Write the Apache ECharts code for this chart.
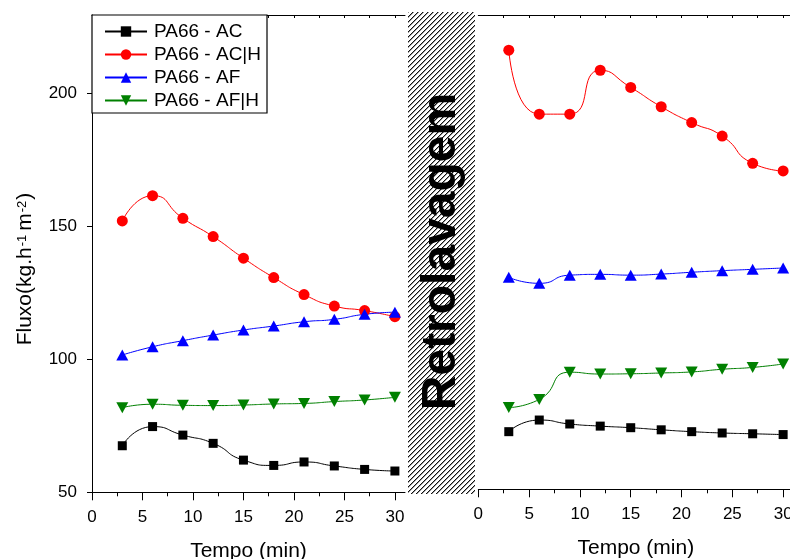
<!DOCTYPE html>
<html>
<head>
<meta charset="utf-8">
<script src="https://cdn.jsdelivr.net/npm/echarts@6/dist/echarts.min.js"></script>
<style>
  html, body { margin: 0; padding: 0; background: #fff; }
  #chart { width: 790px; height: 559px; }
</style>
</head>
<body>
<div id="chart"></div>
<script>
// Filtration time (min)
const tempo = [3, 6, 9, 12, 15, 18, 21, 24, 27, 30];

// Flux before backwashing
const antesAC  = [67.5, 74.7, 71.5, 68.4, 62.1, 60.1, 61.4, 59.9, 58.6, 58.0];
const antesACH = [152.0, 161.5, 153.0, 146.1, 138.0, 130.7, 124.3, 120.0, 118.3, 116.0];
const antesAF  = [101.6, 104.7, 107.0, 109.1, 111.0, 112.5, 114.1, 115.0, 116.9, 117.7];
const antesAFH = [81.8, 83.1, 82.7, 82.6, 82.8, 83.2, 83.4, 84.1, 84.7, 85.7];

// Flux after backwashing
const depoisAC  = [71.8, 76.2, 74.7, 73.9, 73.3, 72.5, 71.8, 71.3, 71.0, 70.7];
const depoisACH = [216.1, 191.9, 191.9, 208.5, 202.0, 194.7, 188.7, 183.6, 173.3, 170.4];
const depoisAF  = [130.2, 127.9, 131.0, 131.3, 131.0, 131.4, 132.1, 132.7, 133.2, 133.7];
const depoisAFH = [80.9, 84.0, 94.3, 93.6, 93.7, 94.0, 94.4, 95.4, 96.1, 97.4];

const seriesNames = ['PA66 - AC', 'PA66 - AC|H', 'PA66 - AF', 'PA66 - AF|H'];

// Axis ticks
const xMajorTicks = [0, 5, 10, 15, 20, 25, 30];
const xMinorTicks = [2.5, 7.5, 12.5, 17.5, 22.5, 27.5];
const xTopTicks = [2.5, 5, 7.5, 10, 12.5, 15, 17.5, 20, 22.5, 25, 27.5, 30];
const yTicks = [50, 100, 150, 200];

const FONT = '"Liberation Sans", Arial, Helvetica, sans-serif';

// Pixel hatch tile (////) for the backwash band
function hatchTile() {
  const n = 5;
  const c = document.createElement('canvas');
  c.width = n; c.height = n;
  const ctx = c.getContext('2d');
  ctx.fillStyle = '#ffffff';
  ctx.fillRect(0, 0, n, n);
  for (let i = 0; i < n; i++) {
    const row = n - 1 - i;
    ctx.fillStyle = '#111111';
    ctx.fillRect(i, row, 1, 1);
    ctx.fillStyle = '#9a9a9a';
    ctx.fillRect((i + 1) % n, row, 1, 1);
  }
  return c;
}

const styles = [
  { color: '#000000', symbol: 'rect', size: 9, rotate: 0 },
  { color: '#ff0000', symbol: 'circle', size: 11, rotate: 0 },
  { color: '#0000ff', symbol: 'triangle', size: [12, 11], rotate: 0 },
  { color: '#008000', symbol: 'triangle', size: [12, 11], rotate: 180 }
];

function pairs(values) {
  return tempo.map((t, i) => [t, values[i]]);
}

function makeSeries(values, idx, xAxisIndex, yAxisIndex) {
  const s = styles[idx];
  return {
    name: seriesNames[idx],
    type: 'line',
    xAxisIndex: xAxisIndex,
    yAxisIndex: yAxisIndex,
    data: pairs(values),
    smooth: 0.6,
    symbol: s.symbol,
    symbolSize: s.size,
    symbolRotate: s.rotate,
    showAllSymbol: true,
    itemStyle: { color: s.color },
    lineStyle: { color: s.color, width: 1 },
    emphasis: { disabled: true }
  };
}

function bottomAxis(gridIndex) {
  return {
    gridIndex: gridIndex,
    type: 'value',
    position: 'bottom',
    min: 0, max: 31, interval: 5,
    axisLine: { show: true, onZero: false, lineStyle: { color: '#000', width: 1 } },
    axisTick: { show: true, customValues: xMajorTicks, length: 8, lineStyle: { color: '#000', width: 1 } },
    axisLabel: { show: true, customValues: xMajorTicks, fontSize: 17, color: '#000', fontFamily: FONT, margin: 17 },
    splitLine: { show: false },
    name: 'Tempo (min)',
    nameLocation: 'middle',
    nameGap: 48,
    nameTextStyle: { fontSize: 21, color: '#000', fontFamily: FONT }
  };
}

function minorAxis(gridIndex) {
  return {
    gridIndex: gridIndex,
    type: 'value',
    position: 'bottom',
    min: 0, max: 31, interval: 5,
    axisLine: { show: false, onZero: false },
    axisTick: { show: true, customValues: xMinorTicks, length: 4, lineStyle: { color: '#000', width: 1 } },
    axisLabel: { show: false },
    splitLine: { show: false }
  };
}

function topAxis(gridIndex) {
  return {
    gridIndex: gridIndex,
    type: 'value',
    position: 'top',
    min: 0, max: 31, interval: 5,
    axisLine: { show: true, onZero: false, lineStyle: { color: '#000', width: 1 } },
    axisTick: { show: true, inside: true, customValues: xTopTicks, length: 3, lineStyle: { color: '#000', width: 1 } },
    axisLabel: { show: false },
    splitLine: { show: false }
  };
}

const chart = echarts.init(document.getElementById('chart'), null, { renderer: 'canvas' });

const option = {
  animation: false,
  backgroundColor: '#ffffff',
  textStyle: { fontFamily: FONT },
  grid: [
    { left: 92, top: 15, width: 313, height: 477.3, containLabel: false, outerBoundsMode: 'none' },
    { left: 478.3, top: 15, width: 315, height: 474.3, containLabel: false, outerBoundsMode: 'none' }
  ],
  legend: {
    data: seriesNames,
    orient: 'vertical',
    left: 92,
    top: 15,
    padding: [7, 6, 3, 12],
    itemWidth: 42,
    itemHeight: 13,
    itemGap: 4,
    backgroundColor: '#ffffff',
    borderColor: '#000000',
    borderWidth: 1.2,
    borderRadius: 0,
    selectedMode: false,
    textStyle: { fontSize: 19, color: '#000', fontFamily: FONT, padding: [0, 0, 0, 2] }
  },
  xAxis: [
    bottomAxis(0), minorAxis(0), topAxis(0),
    bottomAxis(1), minorAxis(1), topAxis(1)
  ],
  yAxis: [
    {
      gridIndex: 0,
      type: 'value',
      min: 50, max: 229.4, interval: 50,
      axisLine: { show: true, onZero: false, lineStyle: { color: '#000', width: 1 } },
      axisTick: { show: true, customValues: yTicks, length: 5, lineStyle: { color: '#000', width: 1 } },
      axisLabel: { show: true, customValues: yTicks, fontSize: 17, color: '#000', fontFamily: FONT, margin: 15 },
      splitLine: { show: false }
    },
    {
      gridIndex: 1,
      type: 'value',
      min: 50, max: 229.4, interval: 50,
      show: false,
      splitLine: { show: false }
    }
  ],
  series: [
    makeSeries(antesAC, 0, 0, 0),
    makeSeries(antesACH, 1, 0, 0),
    makeSeries(antesAF, 2, 0, 0),
    makeSeries(antesAFH, 3, 0, 0),
    makeSeries(depoisAC, 0, 3, 1),
    makeSeries(depoisACH, 1, 3, 1),
    makeSeries(depoisAF, 2, 3, 1),
    makeSeries(depoisAFH, 3, 3, 1)
  ],
  graphic: {
    elements: [
      {
        type: 'rect',
        z: 50,
        shape: { x: 408, y: 12, width: 67, height: 482 },
        style: { fill: { image: hatchTile(), repeat: 'repeat' }, stroke: null },
        silent: true
      },
      {
        type: 'text',
        z: 51,
        x: 442,
        y: 251.5,
        rotation: Math.PI / 2,
        silent: true,
        style: {
          text: 'Retrolavagem',
          fontSize: 48,
          fontWeight: 'bold',
          fontFamily: FONT,
          fill: '#000',
          align: 'center',
          verticalAlign: 'middle'
        }
      },
      {
        type: 'text',
        z: 51,
        x: 25.5,
        y: 269,
        rotation: Math.PI / 2,
        silent: true,
        style: {
          text: 'Fluxo(kg.h{sup|-1}m{sup2|-2})',
          fontSize: 21,
          lineHeight: 20,
          fontFamily: FONT,
          fill: '#000',
          align: 'center',
          verticalAlign: 'middle',
          rich: {
            sup: { fontSize: 13, lineHeight: 12, verticalAlign: 'top', fontFamily: FONT, fill: '#000', padding: [0, 4, 0, 1] },
            sup2: { fontSize: 13, lineHeight: 12, verticalAlign: 'top', fontFamily: FONT, fill: '#000', padding: [0, 1, 0, 1] }
          }
        }
      }
    ]
  }
};

chart.setOption(option);
</script>
</body>
</html>
